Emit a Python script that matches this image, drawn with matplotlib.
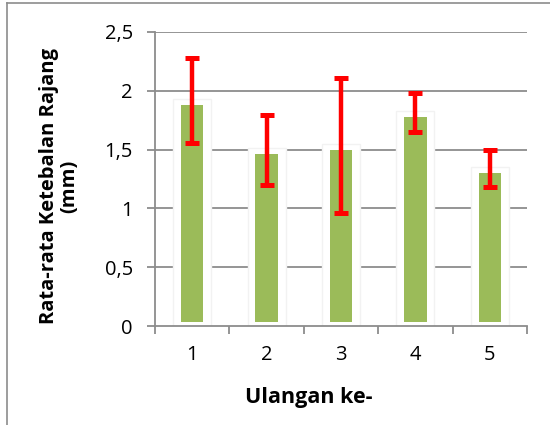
import matplotlib
matplotlib.use("Agg")
import matplotlib.pyplot as plt
from matplotlib.lines import Line2D
import numpy as np

# data
categories = ["1", "2", "3", "4", "5"]
means = [1.88, 1.46, 1.50, 1.78, 1.30]
err_low = [1.56, 1.20, 0.96, 1.65, 1.18]
err_high = [2.28, 1.79, 2.11, 1.98, 1.50]
y_ticks = [0, 0.5, 1, 1.5, 2, 2.5]
y_tick_labels = ["0", "0,5", "1", "1,5", "2", "2,5"]

plt.rcParams["font.family"] = ["Open Sans", "DejaVu Sans"]

fig = plt.figure(figsize=(5.5, 4.25), dpi=100)
ax = fig.add_axes([155 / 550, 1 - 326 / 425, 372 / 550, 294 / 425])

x = np.arange(len(categories))
means = np.array(means)
lower = means - np.array(err_low)
upper = np.array(err_high) - means

# horizontal gridlines
for t in y_ticks[1:]:
    ax.axhline(t, color="#8c8c8c", lw=1.3, zorder=1)

# white glow behind bars (hides gridlines like the Excel effect)
ax.bar(x, means + 0.06, width=0.51, bottom=-0.01, color="white",
       edgecolor="#f2f2f2", lw=1.0, zorder=2)
ax.bar(x, means - 0.03, width=0.3, bottom=0.03, color="#9bbb59", zorder=3)
ax.errorbar(x, means, yerr=[lower, upper], fmt="none", ecolor="#ff0000",
            elinewidth=3.2, capsize=4.8, capthick=3.6, zorder=4)

ax.set_xlim(-0.5, len(categories) - 0.5)
ax.set_ylim(0, 2.5)
ax.set_yticks(y_ticks)
ax.set_yticklabels(y_tick_labels)
ax.set_xticks(x)
ax.set_xticklabels(categories)
ax.set_xticks(np.arange(-0.5, len(categories)), minor=True)
ax.tick_params(axis="x", which="major", length=0, pad=14, labelsize=14.5)
ax.tick_params(axis="x", which="minor", length=6, color="#8c8c8c", width=1.3)
ax.tick_params(axis="y", length=6, color="#8c8c8c", width=1.3, pad=10, labelsize=14.5)

for s in ["top", "right"]:
    ax.spines[s].set_visible(False)
for s in ["left", "bottom"]:
    ax.spines[s].set_color("#8c8c8c")
    ax.spines[s].set_linewidth(1.3)

# axis titles placed like the Excel chart
fig.text(309 / 550, 1 - 397 / 425, "Ulangan ke-", fontsize=15.5,
         fontweight="bold", ha="center", va="center")
fig.text(59 / 550, 1 - 186 / 425, "Rata-rata Ketebalan Rajang\n(mm)",
         fontsize=14.5, fontweight="bold", rotation=90, ha="center",
         va="center", multialignment="center", linespacing=1.0)

# outer chart frame (left and top edges visible)
fig.add_artist(Line2D([7 / 550, 7 / 550], [0, 1 - 3 / 425], color="#8c8c8c",
                      lw=1.2, transform=fig.transFigure))
fig.add_artist(Line2D([7 / 550, 1], [1 - 3 / 425, 1 - 3 / 425], color="#8c8c8c",
                      lw=1.2, transform=fig.transFigure))

fig.savefig("out.png", dpi=100)
plt.close(fig)
